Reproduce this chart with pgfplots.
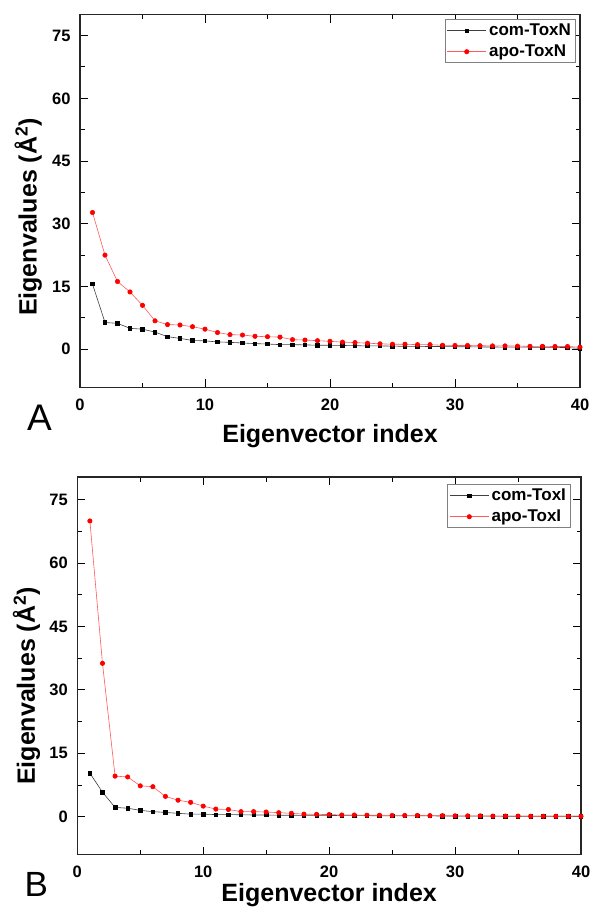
\documentclass[border=0pt]{standalone}
\usepackage{fontspec}
\setmainfont{Liberation Sans}
\usepackage{pgfplots}
\pgfplotsset{compat=1.18}
\usepackage{pgfplotstable}

\pgfplotstableread{
x y
1 15.6
2 6.4
3 6.2
4 5.0
5 4.8
6 4.1
7 3.0
8 2.6
9 2.1
10 2.0
11 1.75
12 1.65
13 1.5
14 1.35
15 1.25
16 1.1
17 1.1
18 1.05
19 0.95
20 0.95
21 0.9
22 0.85
23 0.8
24 0.8
25 0.75
26 0.7
27 0.7
28 0.65
29 0.65
30 0.6
31 0.6
32 0.55
33 0.55
34 0.5
35 0.5
36 0.5
37 0.45
38 0.45
39 0.4
40 0.2
}\comToxN

\pgfplotstableread{
x y
1 32.7
2 22.5
3 16.2
4 13.7
5 10.5
6 6.8
7 5.9
8 5.8
9 5.4
10 4.8
11 4.0
12 3.5
13 3.4
14 3.1
15 3.0
16 2.9
17 2.3
18 2.2
19 2.05
20 1.9
21 1.7
22 1.6
23 1.45
24 1.3
25 1.2
26 1.2
27 1.1
28 1.1
29 0.95
30 0.9
31 0.9
32 0.85
33 0.8
34 0.8
35 0.75
36 0.7
37 0.7
38 0.65
39 0.65
40 0.5
}\apoToxN

\pgfplotstableread{
x y
1 10.3
2 5.8
3 2.2
4 2.0
5 1.5
6 1.2
7 1.0
8 0.8
9 0.6
10 0.6
11 0.5
12 0.5
13 0.45
14 0.4
15 0.4
16 0.35
17 0.35
18 0.3
19 0.3
20 0.3
21 0.25
22 0.25
23 0.25
24 0.2
25 0.2
26 0.2
27 0.2
28 0.2
29 0.15
30 0.15
31 0.15
32 0.15
33 0.15
34 0.1
35 0.1
36 0.1
37 0.1
38 0.1
39 0.1
40 0.1
}\comToxI

\pgfplotstableread{
x y
1 70.0
2 36.3
3 9.6
4 9.4
5 7.3
6 7.1
7 4.8
8 3.9
9 3.4
10 2.5
11 1.8
12 1.7
13 1.2
14 1.2
15 1.1
16 0.95
17 0.8
18 0.6
19 0.55
20 0.5
21 0.4
22 0.4
23 0.35
24 0.35
25 0.3
26 0.3
27 0.3
28 0.25
29 0.25
30 0.2
31 0.2
32 0.2
33 0.15
34 0.15
35 0.15
36 0.1
37 0.1
38 0.1
39 0.1
40 0.1
}\apoToxI

\pgfplotsset{
  eigstyle/.style={
    scale only axis,
    xmin=0, xmax=40,
    xtick={0,10,20,30,40},
    ytick={0,15,30,45,60,75},
    minor x tick num=1, minor y tick num=1,
    tick align=inside,
    major tick length=8pt, minor tick length=4.5pt,
    tick style={black, line width=1pt},
    axis line style={black!85, line width=1.3pt},
    /pgf/number format/assume math mode=true,
    tick label style={font=\bfseries\fontsize{16.5}{16.5}\selectfont, inner sep=0pt},
    yticklabel style={anchor=east, xshift=-9.3pt},
    xticklabel style={anchor=north, yshift=-11pt},
    label style={font=\bfseries\fontsize{25}{25}\selectfont, inner sep=0pt},
    xlabel={Eigenvector index},
    ylabel={Eigenvalues (Å\textsuperscript{2})},
    legend cell align=left,
    legend image code/.code={\draw[mark repeat=2,mark phase=2,##1] plot coordinates {(0pt,0pt) (19.5pt,0pt) (39pt,0pt)};},
    legend style={anchor=north east, draw=gray, line width=0.6pt,
      inner xsep=2pt, inner ysep=0.5pt,
      font=\bfseries\fontsize{17}{17}\selectfont,
      nodes={inner sep=2.5pt, text height=12.5pt, text depth=3.6pt},
      /tikz/every even column/.append style={column sep=3pt}},
  },
  comstyle/.style={color=black!75, line width=0.6pt, mark=square*, mark size=1.75pt,
    mark options={fill=black, draw=black, solid}},
  apostyle/.style={color=red!65, line width=0.6pt, mark=*, mark size=2.2pt,
    mark options={fill=red, draw=red, solid}},
}

\begin{document}
\begin{tikzpicture}
\begin{axis}[eigstyle,
  at={(80pt,-14.7pt)}, anchor=north west,
  width=500pt, height=372.6pt,
  ymin=-9.1, ymax=80,
  xlabel style={at={(axis description cs:0.5,-0.0993)}, anchor=north},
  ylabel style={at={(axis description cs:-0.0866,0.457)}, anchor=base},
  legend style={at={(axis description cs:0.9914,0.9877)}},
]
\addplot[comstyle] table[x=x,y=y] {\comToxN};
\addlegendentry{com-ToxN}
\addplot[apostyle] table[x=x,y=y] {\apoToxN};
\addlegendentry{apo-ToxN}
\end{axis}

\begin{axis}[eigstyle,
  at={(77.3pt,-477pt)}, anchor=north west,
  width=503.7pt, height=377.7pt,
  ymin=-9, ymax=80.4,
  xlabel style={at={(axis description cs:0.5,-0.0749)}, anchor=north},
  ylabel style={at={(axis description cs:-0.084,0.4467)}, anchor=base},
  legend style={at={(axis description cs:0.9796,0.9807)}},
]
\addplot[comstyle] table[x=x,y=y] {\comToxI};
\addlegendentry{com-ToxI}
\addplot[apostyle] table[x=x,y=y] {\apoToxI};
\addlegendentry{apo-ToxI}
\end{axis}

\node[font=\fontsize{37}{37}\selectfont, anchor=base, inner sep=0pt] at (39.5pt,-430pt) {A};
\node[font=\fontsize{35}{35}\selectfont, anchor=base, inner sep=0pt] at (36.3pt,-896pt) {B};

\pgfresetboundingbox
\useasboundingbox (0pt,0pt) rectangle (592pt,-915pt);
\end{tikzpicture}
\end{document}
